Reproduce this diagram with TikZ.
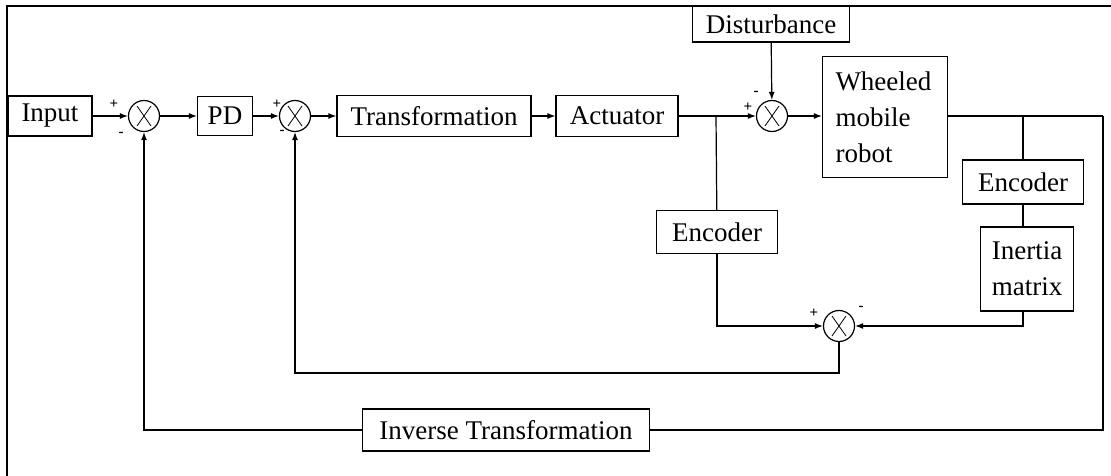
\documentclass[tikz,border=0pt]{standalone}
\usepackage{fontspec}
\setmainfont{Liberation Serif}
\usetikzlibrary{arrows.meta,positioning}

\begin{document}
\begin{tikzpicture}[
  x=1pt, y=-1pt,
  line width=1.2pt,
  box/.style={draw, font=\fontsize{27}{36}\selectfont, align=center, inner sep=0pt},
  sum/.style={draw, circle, minimum size=31pt, inner sep=0pt,
    path picture={\draw[line width=0.8pt]
      ([shift={(-7pt,10pt)}]path picture bounding box.center) -- ([shift={(7pt,-10pt)}]path picture bounding box.center)
      ([shift={(7pt,10pt)}]path picture bounding box.center) -- ([shift={(-7pt,-10pt)}]path picture bounding box.center);}},
  sign/.style={font=\fontsize{15}{15}\selectfont\bfseries, inner sep=0pt},
  arr/.style={-{Latex[length=8pt, width=6pt]}}
]
\useasboundingbox (0,0) rectangle (1111,476);
% frame
\draw (7,476) |- (1111,6);

% forward path
\node[box, minimum width=84pt, minimum height=40pt] (in) at (50,116) {Input};
\node[sum] (s1) at (144,116) {};
\node[box, minimum width=55pt, minimum height=39pt] (pd) at (225,116) {PD};
\node[sum] (s2) at (295,116) {};
\node[box, minimum width=194pt, minimum height=41pt] (tr) at (434,116) {Transformation};
\node[box, minimum width=122pt, minimum height=41pt] (act) at (617,116) {Actuator};
\node[sum] (s3) at (772,116) {};
\node[box, minimum width=157pt, minimum height=36pt] (dist) at (771,24) {Disturbance};
\node[box, align=left, text width=99pt, inner xsep=13pt, minimum height=121pt] (wmr) at (885,117) {Wheeled\\mobile\\robot};

% measurement blocks
\node[box, minimum width=121pt, minimum height=43pt] (enc1) at (717,232) {Encoder};
\node[box, minimum width=121pt, minimum height=44pt] (enc2) at (1023,182) {Encoder};
\node[box, minimum width=93pt, minimum height=84pt] (im) at (1027,269) {Inertia\\matrix};
\node[sum] (s4) at (839,326) {};
\node[box, minimum width=287pt, minimum height=42pt] (inv) at (506,430) {Inverse Transformation};
\coordinate (br) at (716,116);
\coordinate (out) at (1103,116);

% signs
\node[sign] (s1p) at ([shift={(-30,-12)}]s1) {+};
\node[sign] (s1m) at ([shift={(-23,18)}]s1) {-};
\node[sign] (s2p) at ([shift={(-18,-12)}]s2) {+};
\node[sign] (s2m) at ([shift={(-13,16)}]s2) {-};
\node[sign] (s3p) at ([shift={(-24,-9)}]s3) {+};
\node[sign] (s3m) at ([shift={(-16,-23)}]s3) {-};
\node[sign] (s4p) at ([shift={(-25,-13)}]s4) {+};
\node[sign] (s4m) at ([shift={(22,-18)}]s4) {-};

% connectors
\draw[arr] (in) -- (s1);
\draw[arr] (s1) -- (pd);
\draw[arr] (pd) -- (s2);
\draw[arr] (s2) -- (tr);
\draw[arr] (tr) -- (act);
\draw[arr] (act) -- (s3);
\draw[arr] (dist) -- (s3);
\draw[arr] (s3) -- (wmr.west |- s3);
\draw (br) -- (enc1);
\draw (wmr.east |- out) -- (out);
\draw (enc2.north |- out) -- (enc2);
\draw (enc2) -- (enc2.south |- im.north);
\draw[arr] (enc1) |- (s4);
\draw[arr] (enc2.south |- im.south) |- (s4);
\draw[arr] (s4) -- ++(0,47) -| (s2);
\draw (out) |- (inv);
\draw[arr] (inv) -| (s1);
\end{tikzpicture}
\end{document}
